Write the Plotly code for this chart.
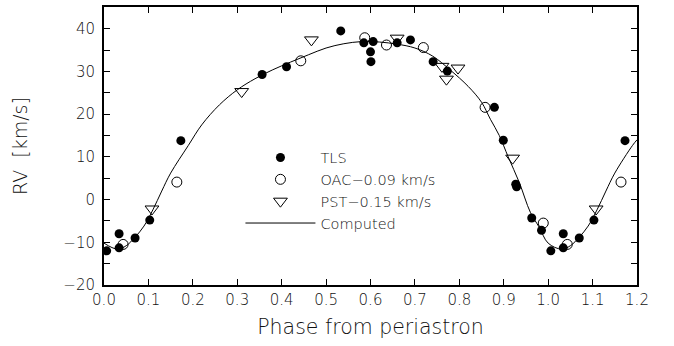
import plotly.graph_objects as go

# TLS radial velocities (phase from periastron, km/s); phases < 0.2 repeated at +1
tls_phase = [0.006, 0.034, 0.034, 0.070, 0.103, 0.173, 0.356, 0.411, 0.533, 0.585,
             0.606, 0.600, 0.601, 0.660, 0.690, 0.741, 0.773, 0.879, 0.899, 0.927,
             0.929, 0.963, 0.985, 1.006, 1.034, 1.034, 1.070, 1.103, 1.173]
tls_rv = [-12.0, -8.0, -11.3, -9.0, -4.8, 13.8, 29.3, 31.1, 39.5, 36.7,
          37.0, 34.6, 32.3, 36.7, 37.4, 32.3, 30.1, 21.6, 13.9, 3.6,
          3.0, -4.3, -7.2, -12.0, -8.0, -11.3, -9.0, -4.8, 13.8]

# OAC velocities, shifted by -0.09 km/s
oac_phase = [0.043, 0.164, 0.443, 0.587, 0.636, 0.719, 0.858, 0.989, 1.043, 1.164]
oac_rv = [-10.5, 4.1, 32.5, 37.9, 36.2, 35.6, 21.6, -5.5, -10.5, 4.1]

# PST velocities, shifted by -0.15 km/s
pst_phase = [0.108, 0.310, 0.467, 0.660, 0.761, 0.771, 0.797, 0.920, 1.108]
pst_rv = [-2.2, 25.3, 37.4, 37.8, 31.2, 28.2, 30.8, 9.7, -2.2]

# Computed orbit
orbit_phase = [0.00, 0.03, 0.05, 0.07, 0.09, 0.11, 0.13, 0.15, 0.19, 0.22, 0.26,
               0.30, 0.34, 0.38, 0.42, 0.46, 0.50, 0.54, 0.58, 0.62, 0.66, 0.70,
               0.74, 0.78, 0.82, 0.85, 0.87, 0.89, 0.91, 0.935, 0.96, 0.98,
               1.00, 1.03, 1.05, 1.07, 1.09, 1.11, 1.13, 1.15, 1.19, 1.20]
orbit_rv = [-10.2, -11.6, -10.8, -8.8, -6.2, -2.4, 2.0, 6.2, 12.7, 17.5, 22.2,
            25.7, 28.3, 30.4, 32.2, 33.9, 35.5, 36.5, 37.0, 36.9, 36.4, 35.5,
            33.6, 30.3, 26.5, 22.8, 18.8, 15.0, 10.0, 4.0, -3.0, -6.5,
            -10.2, -11.6, -10.8, -8.8, -6.2, -2.4, 2.0, 6.2, 12.7, 14.0]

x_ticks = [0.0, 0.1, 0.2, 0.3, 0.4, 0.5, 0.6, 0.7, 0.8, 0.9, 1.0, 1.1, 1.2]
y_ticks = [-20, -10, 0, 10, 20, 30, 40]

FONT = "DejaVu Sans"
WEIGHT = 200
ink = "black"
text_ink = "#111"

fig = go.Figure()
fig.add_trace(go.Scatter(
    x=tls_phase, y=tls_rv, mode="markers", name="TLS",
    marker=dict(symbol="circle", size=9, color=ink, line=dict(width=0)),
))
fig.add_trace(go.Scatter(
    x=oac_phase, y=oac_rv, mode="markers", name="OAC\u22120.09 km/s",
    marker=dict(symbol="circle-open", size=10, color=ink, line=dict(width=1)),
))
fig.add_trace(go.Scatter(
    x=pst_phase, y=pst_rv, mode="markers", name="PST\u22120.15 km/s",
    marker=dict(symbol="triangle-down-open", size=12, color=ink, line=dict(width=1)),
))
fig.add_trace(go.Scatter(
    x=orbit_phase, y=orbit_rv, mode="lines", name="Computed",
    line=dict(color=ink, width=1, shape="spline", smoothing=1.0),
))

axis_common = dict(
    showline=True, linecolor=ink, linewidth=2, mirror="allticks",
    ticks="inside", ticklen=6, tickwidth=1, tickcolor=ink,
    showgrid=False, zeroline=False,
    tickfont=dict(family=FONT, size=15, color=text_ink, weight=WEIGHT),
)

fig.update_xaxes(
    range=[0, 1.2], tickvals=x_ticks, tickformat=".1f",
    title=dict(text="Phase from periastron", standoff=12,
               font=dict(family=FONT, size=20.5, color=text_ink, weight=WEIGHT)),
    **axis_common,
)
fig.update_yaxes(
    range=[-20, 45.1], tickvals=y_ticks,
    minor=dict(dtick=5, ticks="inside", ticklen=6, tickcolor=ink, showgrid=False),
    ticklabelstandoff=4,
    title=dict(text="RV  [km/s]", standoff=31,
               font=dict(family=FONT, size=19, color=text_ink, weight=WEIGHT)),
    **axis_common,
)

fig.update_layout(
    width=674, height=346,
    margin=dict(l=104, r=37, t=5, b=61),
    paper_bgcolor="white", plot_bgcolor="white",
    showlegend=True,
    legend=dict(
        x=0.256, y=0.516, xanchor="left", yanchor="top",
        bgcolor="rgba(0,0,0,0)", borderwidth=0,
        itemwidth=70, tracegroupgap=0,
        font=dict(family=FONT, size=14.5, color=text_ink, weight=WEIGHT),
    ),
)

fig.write_html("out.html")
